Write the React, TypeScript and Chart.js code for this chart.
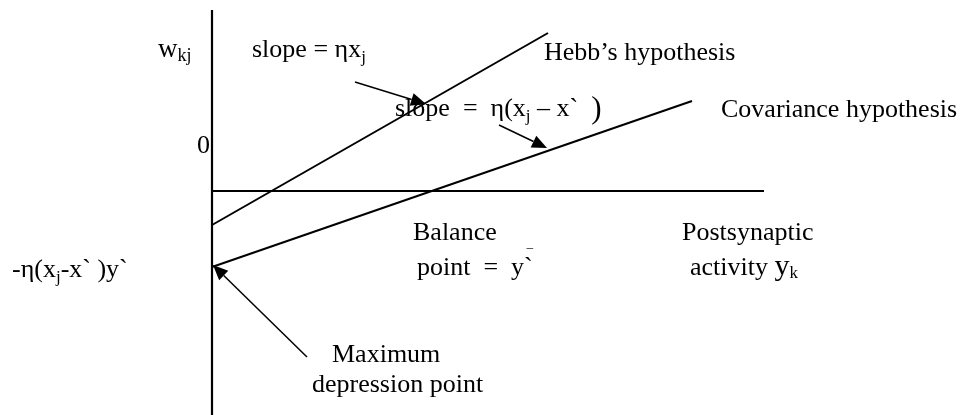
import React, { useEffect, useRef } from "react";
import { Chart, registerables } from "chart.js";

Chart.register(...registerables);

// ---- data (x: postsynaptic activity, y: synaptic weight change) ----
const axisY = [
  { x: 0, y: 1.81 },
  { x: 0, y: -2.24 },
];
const axisX = [
  { x: 0, y: 0 },
  { x: 5.52, y: 0 },
];
const hebbLine = [
  { x: 0, y: -0.34 },
  { x: 3.36, y: 1.58 },
];
const covarianceLine = [
  { x: 0, y: -0.76 },
  { x: 4.8, y: 0.9 },
];
const arrows = [
  { from: { x: 1.43, y: 1.09 }, to: { x: 2.14, y: 0.87 } },
  { from: { x: 2.87, y: 0.66 }, to: { x: 3.35, y: 0.43 } },
  { from: { x: 0.95, y: -1.66 }, to: { x: 0.01, y: -0.74 } },
];

const FONT = '"Liberation Serif", "Times New Roman", serif';

type Seg = { t: string; size?: number; dy?: number };
type Label = { x: number; y: number; segs: Seg[] };

const labels: Label[] = [
  { x: -0.54, y: 1.34, segs: [{ t: "w", size: 27 }, { t: "kj", size: 18, dy: 4 }] },
  { x: 0.4, y: 1.34, segs: [{ t: "slope = ηx" }, { t: "j", size: 17, dy: 5 }] },
  { x: 3.32, y: 1.31, segs: [{ t: "Hebb’s hypothesis" }] },
  {
    x: 1.83,
    y: 0.75,
    segs: [
      { t: "slope  =  η(x" },
      { t: "j", size: 17, dy: 5 },
      { t: " – x`  " },
      { t: ")", size: 31, dy: 2 },
    ],
  },
  { x: 5.09, y: 0.74, segs: [{ t: "Covariance hypothesis" }] },
  { x: -0.15, y: 0.38, segs: [{ t: "0" }] },
  {
    x: -2.0,
    y: -0.86,
    segs: [{ t: "-η(x" }, { t: "j", size: 17, dy: 5 }, { t: "-x` )y`" }],
  },
  { x: 2.01, y: -0.49, segs: [{ t: "Balance" }] },
  { x: 2.05, y: -0.84, segs: [{ t: "point  =  y`" }] },
  { x: 3.15, y: -0.71, segs: [{ t: "‾", size: 17 }] },
  { x: 4.7, y: -0.49, segs: [{ t: "Postsynaptic" }] },
  { x: 4.78, y: -0.84, segs: [{ t: "activity " }, { t: "y", size: 30 }, { t: "k", size: 17, dy: 3 }] },
  { x: 1.2, y: -1.71, segs: [{ t: "Maximum" }] },
  { x: 1.0, y: -2.01, segs: [{ t: "depression point" }] },
];

const overlayPlugin = {
  id: "overlay",
  afterDatasetsDraw(chart: any) {
    const ctx = chart.ctx as CanvasRenderingContext2D;
    const xs = chart.scales.x;
    const ys = chart.scales.y;
    ctx.save();
    // arrows
    ctx.strokeStyle = "#000";
    ctx.fillStyle = "#000";
    ctx.lineWidth = 1.5;
    for (const a of arrows) {
      const x1 = xs.getPixelForValue(a.from.x);
      const y1 = ys.getPixelForValue(a.from.y);
      const x2 = xs.getPixelForValue(a.to.x);
      const y2 = ys.getPixelForValue(a.to.y);
      const ang = Math.atan2(y2 - y1, x2 - x1);
      const len = 15;
      const half = 6.5;
      const bx = x2 - len * Math.cos(ang);
      const by = y2 - len * Math.sin(ang);
      ctx.beginPath();
      ctx.moveTo(x1, y1);
      ctx.lineTo(bx, by);
      ctx.stroke();
      ctx.beginPath();
      ctx.moveTo(x2, y2);
      ctx.lineTo(bx + half * Math.sin(ang), by - half * Math.cos(ang));
      ctx.lineTo(bx - half * Math.sin(ang), by + half * Math.cos(ang));
      ctx.closePath();
      ctx.fill();
    }
    // labels
    ctx.textBaseline = "alphabetic";
    ctx.textAlign = "left";
    for (const l of labels) {
      let cx = xs.getPixelForValue(l.x);
      const cy = ys.getPixelForValue(l.y);
      for (const s of l.segs) {
        ctx.font = `${s.size ?? 26}px ${FONT}`;
        ctx.fillText(s.t, cx, cy + (s.dy ?? 0));
        cx += ctx.measureText(s.t).width;
      }
    }
    ctx.restore();
  },
};

export default function App() {
  const ref = useRef<HTMLCanvasElement | null>(null);
  useEffect(() => {
    document.body.style.margin = "0";
    document.body.style.overflow = "hidden";
    const line = (data: any[], w: number) => ({
      data,
      showLine: true,
      borderColor: "#000",
      borderWidth: w,
      pointRadius: 0,
      fill: false,
    });
    const chart = new Chart(ref.current as HTMLCanvasElement, {
      type: "scatter",
      data: {
        datasets: [
          line(axisY, 2.2),
          line(axisX, 2),
          line(hebbLine, 2),
          line(covarianceLine, 2),
        ] as any,
      },
      options: {
        animation: false,
        responsive: false,
        maintainAspectRatio: false,
        events: [],
        layout: { padding: 0 },
        plugins: { legend: { display: false }, tooltip: { enabled: false } },
        scales: {
          x: { type: "linear", display: false, min: -2.12, max: 7.55 },
          y: { type: "linear", display: false, min: -2.24, max: 1.91 },
        },
      },
      plugins: [overlayPlugin],
    });
    return () => chart.destroy();
  }, []);
  return (
    <div style={{ width: 967, height: 415, background: "#fff" }}>
      <canvas ref={ref} width={967} height={415} />
    </div>
  );
}
